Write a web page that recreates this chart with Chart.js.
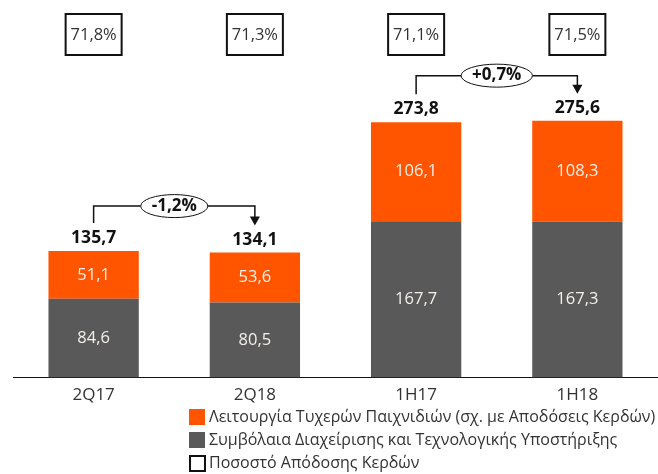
<!DOCTYPE html>
<html>
<head>
<meta charset="utf-8">
<script src="https://cdn.jsdelivr.net/npm/chart.js@4"></script>
<style>
  html, body { margin: 0; padding: 0; background: #fff; }
  #wrap { width: 658px; height: 474px; }
</style>
</head>
<body>
<div id="wrap"><canvas id="myChart" width="658" height="474"></canvas></div>
<script>
// Chart data
const categories = ['2Q17', '2Q18', '1H17', '1H18'];
const gamesValues = [51.1, 53.6, 106.1, 108.3];
const contractsValues = [84.6, 80.5, 167.7, 167.3];
const totals = [135.7, 134.1, 273.8, 275.6];
const payoutRatio = ['71,8%', '71,3%', '71,1%', '71,5%'];
const changes = [{ from: 0, to: 1, label: '-1,2%' }, { from: 2, to: 3, label: '+0,7%' }];
const legendLabels = [
    'Λειτουργία Τυχερών Παιχνιδιών (σχ. με Αποδόσεις Κερδών)',
    'Συμβόλαια Διαχείρισης και Τεχνολογικής Υποστήριξης',
    'Ποσοστό Απόδοσης Κερδών'
];

const FONT = '"Open Sans", "Noto Sans", sans-serif';
const ORANGE = '#ff5400';
const GREY = '#595959';

const fmt = v => v.toFixed(1).replace('.', ',');

// Draws values, totals, payout boxes, change arrows and the legend
const annotations = {
    id: 'annotations',
    afterDatasetsDraw(chart) {
        const ctx = chart.ctx;
        const x = chart.scales.x;
        const y = chart.scales.y;
        ctx.save();

        // values inside bars
        ctx.textAlign = 'center';
        ctx.textBaseline = 'middle';
        ctx.font = '16.5px ' + FONT;
        ctx.fillStyle = '#f4f0ec';
        chart.data.datasets.forEach((ds, di) => {
            chart.getDatasetMeta(di).data.forEach((bar, i) => {
                ctx.fillText(fmt(ds.data[i]), bar.x, (bar.y + bar.base) / 2);
            });
        });

        // totals above bars
        ctx.font = 'bold 17.5px ' + FONT;
        ctx.fillStyle = '#111';
        totals.forEach((t, i) => {
            ctx.fillText(fmt(t), x.getPixelForValue(i), y.getPixelForValue(t) - 13);
        });

        // payout ratio boxes
        ctx.font = '16.5px ' + FONT;
        payoutRatio.forEach((p, i) => {
            const cx = x.getPixelForValue(i);
            ctx.lineWidth = 2;
            ctx.strokeStyle = '#111';
            ctx.strokeRect(cx - 28, 14, 56, 41);
            ctx.fillStyle = '#333';
            ctx.fillText(p, cx, 35);
        });

        // change arrows
        changes.forEach(c => {
            const xa = x.getPixelForValue(c.from);
            const xb = x.getPixelForValue(c.to);
            const ta = y.getPixelForValue(totals[c.from]);
            const tb = y.getPixelForValue(totals[c.to]);
            const lineY = Math.min(ta, tb) - 45;
            const mid = (xa + xb) / 2;
            ctx.font = 'bold 17px ' + FONT;
            const rx = ctx.measureText(c.label).width / 2 + 11;
            const ry = 11.5;
            ctx.strokeStyle = '#111';
            ctx.lineWidth = 1.5;
            ctx.beginPath();
            ctx.moveTo(xa, ta - 28);
            ctx.lineTo(xa, lineY);
            ctx.lineTo(mid - rx, lineY);
            ctx.moveTo(mid + rx, lineY);
            ctx.lineTo(xb, lineY);
            ctx.lineTo(xb, tb - 34);
            ctx.stroke();
            // arrow head
            ctx.fillStyle = '#111';
            ctx.beginPath();
            ctx.moveTo(xb - 5, tb - 36);
            ctx.lineTo(xb + 5, tb - 36);
            ctx.lineTo(xb, tb - 27);
            ctx.closePath();
            ctx.fill();
            // ellipse with label
            ctx.lineWidth = 1;
            ctx.fillStyle = '#fff';
            ctx.beginPath();
            ctx.ellipse(mid, lineY, rx, ry, 0, 0, Math.PI * 2);
            ctx.fill();
            ctx.stroke();
            ctx.fillStyle = '#111';
            ctx.fillText(c.label, mid, lineY);
        });

        // legend
        ctx.textAlign = 'left';
        ctx.font = '16px ' + FONT;
        const rows = [417, 440, 463];
        legendLabels.forEach((l, i) => {
            const cy = rows[i];
            if (i === 0) { ctx.fillStyle = ORANGE; ctx.fillRect(189, cy - 8, 16, 16); }
            if (i === 1) { ctx.fillStyle = GREY; ctx.fillRect(189, cy - 8, 16, 16); }
            if (i === 2) {
                ctx.lineWidth = 2;
                ctx.strokeStyle = '#111';
                ctx.strokeRect(190, cy - 7, 15, 15);
            }
            ctx.fillStyle = '#333';
            ctx.fillText(l, 209, cy);
        });
        ctx.restore();
    }
};

const ctx = document.getElementById('myChart').getContext('2d');
const myChart = new Chart(ctx, {
    type: 'bar',
    data: {
        labels: categories,
        datasets: [
            { label: legendLabels[1], data: contractsValues, backgroundColor: GREY },
            { label: legendLabels[0], data: gamesValues, backgroundColor: ORANGE }
        ]
    },
    options: {
        responsive: false,
        animation: false,
        layout: { padding: { left: 13, right: 0, top: 0, bottom: 62 } },
        plugins: { legend: { display: false }, tooltip: { enabled: false } },
        datasets: { bar: { barPercentage: 0.56, categoryPercentage: 1 } },
        scales: {
            x: {
                stacked: true,
                grid: { display: false, drawTicks: false },
                border: { display: true, color: '#111', width: 1 },
                ticks: { padding: 7, color: '#333', font: { family: FONT, size: 17 } }
            },
            y: {
                stacked: true,
                display: false,
                min: 0,
                max: 405
            }
        }
    },
    plugins: [annotations]
});
</script>
</body>
</html>
